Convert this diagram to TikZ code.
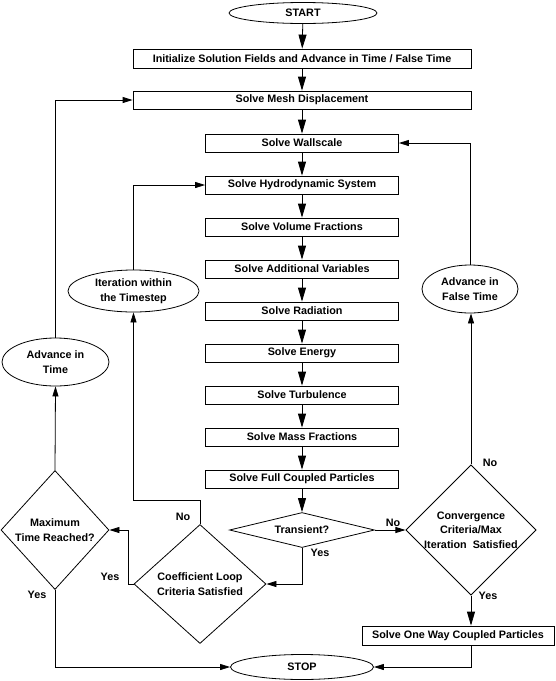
\documentclass[tikz,border=0pt]{standalone}
\usepackage{fontspec}
\setmainfont{Liberation Sans}
\usetikzlibrary{arrows.meta,shapes.geometric}

\begin{document}
\begin{tikzpicture}[x=1pt,y=-1pt,line width=0.8pt,
		font=\bfseries\fontsize{10.8}{14.5}\selectfont,
		box/.style={draw,minimum height=18pt,inner sep=0pt},
		oval/.style={draw,ellipse,inner sep=0pt,align=center},
		test/.style={draw,diamond,inner sep=0pt,align=center},
		lbl/.style={inner sep=0pt},
		->/.style={-{Triangle[length=14pt,width=8pt]}},
		sm/.style={-{Triangle[length=10pt,width=6pt]}}]
	\useasboundingbox (0,0) rectangle (556,681);

	% main column
	\node[oval,minimum width=148pt,minimum height=21pt] (start) at (303,13) {START};
	\node[box,minimum width=338pt,minimum height=19pt] (init) at (302,58.5) {Initialize Solution Fields and Advance in Time / False Time};
	\node[box,minimum width=338pt] (mesh) at (302,100) {Solve Mesh Displacement};
	\node[box,minimum width=193pt] (wall) at (302,143) {Solve Wallscale};
	\node[box,minimum width=193pt] (hydro) at (302,185) {Solve Hydrodynamic System};
	\node[box,minimum width=193pt] (vol) at (302,227) {Solve Volume Fractions};
	\node[box,minimum width=193pt] (addv) at (302,269) {Solve Additional Variables};
	\node[box,minimum width=193pt] (rad) at (302,311) {Solve Radiation};
	\node[box,minimum width=193pt] (energy) at (302,353) {Solve Energy};
	\node[box,minimum width=193pt] (turb) at (302,395) {Solve Turbulence};
	\node[box,minimum width=193pt] (mass) at (302,437) {Solve Mass Fractions};
	\node[box,minimum width=193pt] (full) at (302,479) {Solve Full Coupled Particles};
	\node[test,aspect=4,minimum width=145pt,minimum height=35pt] (trans) at (302,530) {Transient?};
	\node[oval,minimum width=143pt,minimum height=25pt] (stop) at (302,667) {STOP};

	% decisions and loops
	\node[test,minimum width=108pt,minimum height=119pt] (conv) at (471,530) {Convergence\\Criteria/Max\\Iteration\ \ Satisfied};
	\node[box,minimum width=192pt,minimum height=19pt] (oneway) at (458,635.5) {Solve One Way Coupled Particles};
	\node[oval,minimum width=96pt,minimum height=48pt] (advf) at (470,289) {Advance in\\False Time};
	\node[test,minimum width=132pt,minimum height=119pt] (coef) at (200,584) {Coefficient Loop\\Criteria Satisfied};
	\node[oval,minimum width=131pt,minimum height=42pt] (iter) at (133.5,291) {Iteration within\\the Timestep};
	\node[test,minimum width=108pt,minimum height=119pt] (maxt) at (55,530) {Maximum\\Time Reached?};
	\node[oval,minimum width=107pt,minimum height=48pt] (advt) at (55.5,362) {Advance in\\Time};

	\node[lbl] (notr) at (393,523) {No};
	\node[lbl] (yestr) at (320,553) {Yes};
	\node[lbl] (nocv) at (490,463) {No};
	\node[lbl] (yescv) at (488,596) {Yes};
	\node[lbl] (nocf) at (183,517) {No};
	\node[lbl] (yescf) at (110,577) {Yes};
	\node[lbl] (yesmx) at (37,595) {Yes};

	\path[->]
	(start) edge (init)
	(init) edge (mesh)
	(mesh) edge (wall)
	(wall) edge (hydro)
	(hydro) edge (vol)
	(vol) edge (addv)
	(addv) edge (rad)
	(rad) edge (energy)
	(energy) edge (turb)
	(turb) edge (mass)
	(mass) edge (full)
	(full) edge (trans)
	(conv.south) edge (conv.south |- oneway.north);

	\draw[sm] (trans.east) -- (conv.west);
	\draw[sm] (trans.south) |- (coef.east);
	\draw[sm] (conv.south |- oneway.south) |- (stop.east);
	\draw[sm] (conv.north) -- (conv.north |- advf.south);
	\draw[sm] (advf.north) |- (wall.east);
	\draw[sm] (coef.north) -- ++(0,-24) -| (iter.south);
	\draw[sm] (iter.north) |- (hydro.west);
	\draw[sm] (coef.west) -- ++(-5,0) |- (maxt.east);
	\draw[sm] (maxt.north) -- (advt.south);
	\draw[sm] (advt.north) |- (mesh.west);
	\draw[sm] (maxt.south) |- (stop.west);
\end{tikzpicture}
\end{document}
